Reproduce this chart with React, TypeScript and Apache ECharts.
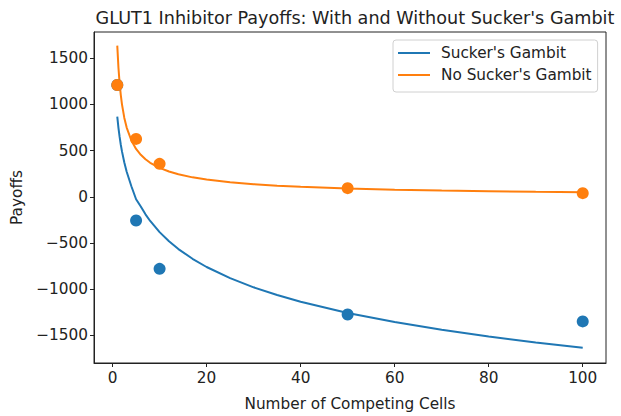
import React, { useEffect, useRef } from "react";
import * as echarts from "echarts";

const curveX = [1, 1.25, 1.5, 1.75, 2, 2.5, 3, 4, 5, 6, 7, 8, 10, 12, 14, 17, 20, 25, 30, 35, 40, 50, 60, 70, 80, 90, 100];
const suckerCurve = [868, 747, 648, 564, 492, 371, 271, 115, -26, -105, -189, -261, -382, -481, -565, -670, -759, -880, -979, -1062, -1135, -1256, -1355, -1439, -1511, -1576, -1633];
const noSuckerCurve = [1636, 1397, 1228, 1101, 1001, 854, 750, 610, 519, 455, 407, 369, 314, 274, 245, 211, 187, 158, 137, 121, 109, 91, 78, 68, 61, 55, 50];
const pointX = [1, 5, 10, 50, 100];
const suckerPoints = [1210, -256, -779, -1273, -1348];
const noSuckerPoints = [1210, 627, 357, 94, 40];
const xTicks = [0, 20, 40, 60, 80, 100];
const yTicks = [-1500, -1000, -500, 0, 500, 1000, 1500];

const BLUE = "#1f77b4";
const ORANGE = "#ff7f0e";
const FONT = "DejaVu Sans";
const FS = 15.3;

const zip = (xs: number[], ys: number[]) => xs.map((x, i) => [x, ys[i]]);
const fmt = (v: number) => String(v).replace("-", "\u2212");

export default function App() {
  const ref = useRef<HTMLDivElement>(null);
  useEffect(() => {
    document.body.style.margin = "0";
    const chart = echarts.init(ref.current!, null, { renderer: "svg" });
    const axisCommon = {
      axisLine: { show: true, onZero: false, lineStyle: { color: "#222", width: 1 } },
      axisTick: { show: true, inside: false, length: 4, lineStyle: { color: "#222" } },
      splitLine: { show: false },
      nameLocation: "middle" as const,
      nameTextStyle: { fontFamily: FONT, fontSize: FS, color: "#222" },
    };
    chart.setOption({
      animation: false,
      backgroundColor: "#fff",
      title: {
        text: "GLUT1 Inhibitor Payoffs: With and Without Sucker's Gambit",
        left: 350,
        textAlign: "center",
        top: 4,
        textStyle: { fontFamily: FONT, fontSize: 17.6, fontWeight: "normal", color: "#222" },
      },
      legend: {
        orient: "vertical",
        left: 393,
        top: 40,
        padding: [5, 6, 9, 5],
        itemGap: 6,
        itemWidth: 32,
        itemHeight: 2,
        icon: "rect",
        borderColor: "#d0d0d0",
        borderWidth: 1,
        borderRadius: 3,
        backgroundColor: "rgba(255,255,255,0.8)",
        textStyle: { fontFamily: FONT, fontSize: FS, color: "#222", lineHeight: 16, padding: [0, 0, 0, 6] },
        data: ["Sucker's Gambit", "No Sucker's Gambit"],
      },
      grid: {
        left: 94,
        right: 15,
        top: 32,
        bottom: 52,
        show: true,
        borderColor: "#222",
        borderWidth: 1,
        containLabel: false,
      },
      xAxis: {
        type: "value",
        min: -3.95,
        max: 104.95,
        name: "Number of Competing Cells",
        nameGap: 33,
        ...axisCommon,
        axisTick: { ...axisCommon.axisTick, customValues: xTicks },
        axisLabel: {
          customValues: xTicks,
          fontFamily: FONT,
          fontSize: FS,
          color: "#222",
          margin: 7,
          formatter: (v: number) => fmt(v),
        },
      },
      yAxis: {
        type: "value",
        min: -1798,
        max: 1784,
        name: "Payoffs",
        nameGap: 70,
        ...axisCommon,
        axisTick: { ...axisCommon.axisTick, customValues: yTicks },
        axisLabel: {
          customValues: yTicks,
          fontFamily: FONT,
          fontSize: FS,
          color: "#222",
          margin: 6,
          formatter: (v: number) => fmt(v),
        },
      },
      series: [
        {
          name: "Sucker's Gambit",
          type: "line",
          data: zip(curveX, suckerCurve),
          symbol: "none",
          smooth: false,
          lineStyle: { color: BLUE, width: 2 },
          itemStyle: { color: BLUE },
          z: 2,
        },
        {
          name: "No Sucker's Gambit",
          type: "line",
          data: zip(curveX, noSuckerCurve),
          symbol: "none",
          smooth: false,
          lineStyle: { color: ORANGE, width: 2 },
          itemStyle: { color: ORANGE },
          z: 2,
        },
        {
          name: "sucker points",
          type: "scatter",
          data: zip(pointX, suckerPoints),
          symbolSize: 12,
          itemStyle: { color: BLUE, opacity: 1 },
          z: 3,
        },
        {
          name: "no sucker points",
          type: "scatter",
          data: zip(pointX, noSuckerPoints),
          symbolSize: 12,
          itemStyle: { color: ORANGE, opacity: 1 },
          z: 4,
        },
      ],
    });
    return () => chart.dispose();
  }, []);
  return <div ref={ref} style={{ width: 621, height: 416 }} />;
}
